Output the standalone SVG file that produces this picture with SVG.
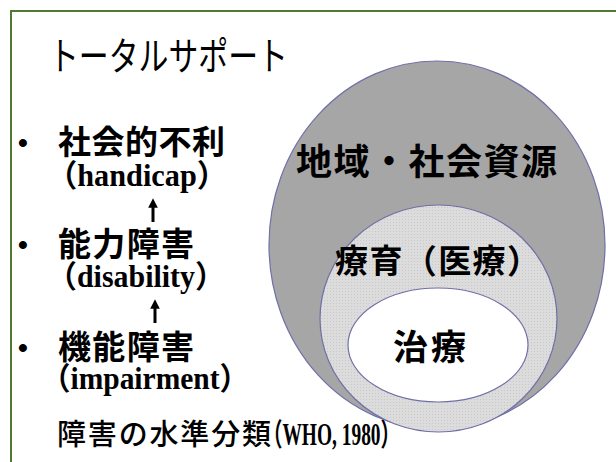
<svg xmlns="http://www.w3.org/2000/svg" width="616" height="462" viewBox="0 0 616 462">
<defs>
<style>
.jp{font-family:"Noto Sans CJK JP","Noto Sans",sans-serif;fill:#000}
.hb{font-weight:bold;font-size:33px}
.en{font-family:"Liberation Serif","Noto Sans CJK JP",serif;font-weight:bold;font-size:31px;fill:#000}
.bul{font-family:"Liberation Sans",sans-serif;font-size:28px;font-weight:bold;fill:#000}
.ell{stroke:#6f6fa8;stroke-width:1.2}
.conn{stroke:#000;stroke-width:3;fill:none;marker-end:url(#ah)}
</style>
<marker id="ah" viewBox="0 0 10 10" refX="4" refY="5" markerWidth="3.2" markerHeight="3.2" orient="auto" markerUnits="strokeWidth">
<path d="M0,0 L10,5 L0,10 z" fill="#000"/>
</marker>
<pattern id="dots" width="3" height="3" patternUnits="userSpaceOnUse">
<rect width="3" height="3" fill="#dcdcdc"/>
<rect width="1" height="1" fill="#c8c8c8"/>
</pattern>
</defs>
<rect x="0" y="0" width="616" height="462" fill="#fff"/>
<rect id="frame" x="11" y="11" width="640" height="480" fill="none" stroke="#4f7a35" stroke-width="2"/>

<g id="title">
<text class="jp" x="49" y="70" font-size="39" textLength="239" lengthAdjust="spacingAndGlyphs">トータルサポート</text>
</g>

<g id="handicap">
<text class="bul" x="18" y="152">•</text>
<text class="jp hb" x="58" y="154" textLength="167" lengthAdjust="spacing">社会的不利</text>
<text class="en" x="47" y="186" textLength="180" lengthAdjust="spacingAndGlyphs">（handicap）</text>
</g>
<g id="disability">
<text class="bul" x="18" y="254">•</text>
<text class="jp hb" x="58" y="256" textLength="136" lengthAdjust="spacing">能力障害</text>
<text class="en" x="47" y="287" textLength="178" lengthAdjust="spacingAndGlyphs">（disability）</text>
</g>
<g id="impairment">
<text class="bul" x="18" y="357">•</text>
<text class="jp hb" x="58" y="359" textLength="136" lengthAdjust="spacing">機能障害</text>
<text class="en" x="41" y="389" textLength="208" lengthAdjust="spacingAndGlyphs">（impairment）</text>
</g>
<g id="caption">
<text class="jp" x="57" y="445" font-size="29" font-weight="500" textLength="214" lengthAdjust="spacing">障害の水準分類</text>
<text class="en" x="263" y="445" font-size="18" textLength="137" lengthAdjust="spacingAndGlyphs">（WHO, 1980）</text>
</g>

<g id="connectors">
<line class="conn" x1="153" y1="222" x2="153" y2="204"/>
<line class="conn" x1="155" y1="323" x2="155" y2="305"/>
</g>

<g id="community">
<ellipse class="ell" cx="437" cy="245" rx="168" ry="184" fill="#a6a6a6"/>
<text class="jp" x="296" y="175" font-size="36" font-weight="bold" textLength="261" lengthAdjust="spacing">地域・社会資源</text>
</g>
<g id="ryoiku">
<ellipse class="ell" cx="438.5" cy="318.5" rx="118.5" ry="113.5" fill="url(#dots)"/>
<text class="jp" x="335" y="273" font-size="33" font-weight="bold" textLength="205" lengthAdjust="spacing">療育（医療）</text>
</g>
<g id="chiryo">
<ellipse class="ell" cx="438" cy="345" rx="90" ry="57" fill="#fff"/>
<text class="jp" x="393" y="360" font-size="35" font-weight="bold" textLength="73" lengthAdjust="spacing">治療</text>
</g>
</svg>
